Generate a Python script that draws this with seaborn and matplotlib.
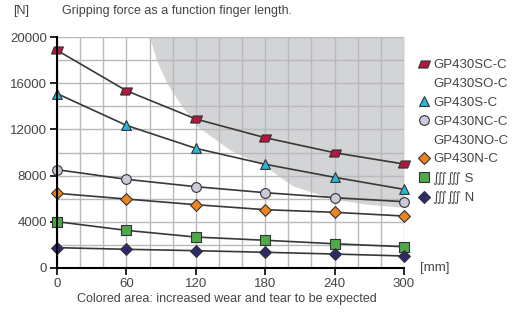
import numpy as np
import pandas as pd
import matplotlib
matplotlib.use("Agg")
import matplotlib.pyplot as plt
from matplotlib.lines import Line2D
import seaborn as sns

# ── Datos ───────────────────────────────────────────────────────────────────
finger_mm = [0, 60, 120, 180, 240, 300]
force_sc = [18850, 15350, 12900, 11280, 9980, 9000]
force_s = [15100, 12350, 10360, 8980, 7850, 6810]
force_nc = [8510, 7680, 7040, 6520, 6090, 5740]
force_n = [6470, 5970, 5480, 5050, 4820, 4500]
force_spring_s = [4010, 3260, 2680, 2400, 2100, 1840]
force_spring_n = [1760, 1620, 1500, 1360, 1210, 1040]

# zona de desgaste (borde inferior del área gris)
wear_x = [80, 86, 95, 108, 122, 150, 180, 204, 240, 270, 300]
wear_y = [20000, 18000, 16000, 14000, 12200, 10200, 8800, 7100, 5950, 5500, 5250]

series_names = ["GP430SC-C", "GP430S-C", "GP430NC-C", "GP430N-C", "S", "N"]
series_vals = [force_sc, force_s, force_nc, force_n, force_spring_s, force_spring_n]
spring = "\u222d\u222d"
legend_labels = ["GP430SC-C", "GP430SO-C", "GP430S-C", "GP430NC-C",
                 "GP430NO-C", "GP430N-C", spring + " S", spring + " N"]

# ── Estilo ──────────────────────────────────────────────────────────────────
sns.set_theme(style="white")
plt.rcParams["font.family"] = ["Liberation Sans", "DejaVu Sans"]
txt = "#444444"
parallelogram = [(-1, -0.6), (0.55, -0.6), (1, 0.6), (-0.55, 0.6), (-1, -0.6)]
markers = {"GP430SC-C": parallelogram, "GP430S-C": "^", "GP430NC-C": "o",
           "GP430N-C": "D", "S": "s", "N": "D"}
palette = {"GP430SC-C": "#b3173f", "GP430S-C": "#2bb5d8", "GP430NC-C": "#c9cbdb",
           "GP430N-C": "#ee8420", "S": "#4fa84a", "N": "#2d2a6b"}
sizes = {"GP430SC-C": 8.5, "GP430S-C": 7, "GP430NC-C": 7,
         "GP430N-C": 6, "S": 7, "N": 6}

df = pd.DataFrame([
    {"serie": n, "mm": x, "N": v}
    for n, vals in zip(series_names, series_vals)
    for x, v in zip(finger_mm, vals)
])

fig = plt.figure(figsize=(5.12, 3.13), dpi=100)
ax = fig.add_axes([57 / 512, 1 - 268 / 313, 347 / 512, 231 / 313])

ax.fill_between(wear_x, wear_y, 20000, color="#d3d4d6", lw=0, zorder=0)

ax.set_xticks(np.arange(0, 301, 20), minor=True)
ax.set_yticks(np.arange(0, 20001, 2000), minor=True)
ax.grid(which="both", color="#b9b9bb", lw=1.0, zorder=1)
ax.set_axisbelow(True)

sns.lineplot(data=df, x="mm", y="N", units="serie", estimator=None,
             color="#383838", lw=1.2, ax=ax, zorder=3)

for name in series_names:
    sub = df[df["serie"] == name]
    sns.scatterplot(data=sub, x="mm", y="N", marker=markers[name],
                    color=palette[name], s=sizes[name] ** 2,
                    edgecolor="#333333", linewidth=0.8, ax=ax,
                    zorder=4, clip_on=False, legend=False)

ax.set_xlim(0, 300)
ax.set_ylim(0, 20000)
ax.set_xticks(finger_mm)
ax.set_yticks(np.arange(0, 20001, 4000))
ax.set_xlabel("")
ax.set_ylabel("")
for side in ["top", "right"]:
    ax.spines[side].set_visible(False)
for side in ["left", "bottom"]:
    ax.spines[side].set_color("black")
    ax.spines[side].set_linewidth(1.5)
    ax.spines[side].set_zorder(5)
ax.tick_params(which="major", direction="out", length=5, width=1.2,
               color="black", labelsize=9.5, labelcolor=txt, pad=2, left=True, bottom=True)
ax.tick_params(which="minor", length=0)

# ── Textos ─────────────────────────────────────────────────────────────────
fig.text(13 / 512, 1 - 11 / 313, "[N]", fontsize=9, color=txt, va="center")
fig.text(62 / 512, 1 - 11 / 313, "Gripping force as a function finger length.",
         fontsize=9, color=txt, va="center")
fig.text(420 / 512, 1 - 268 / 313, "[mm]", fontsize=9.5, color=txt, va="center")
fig.text(227 / 512, 1 - 299 / 313, "Colored area: increased wear and tear to be expected",
         fontsize=9, color=txt, va="center", ha="center")

# ── Leyenda ────────────────────────────────────────────────────────────────
legend_keys = ["GP430SC-C", None, "GP430S-C", "GP430NC-C", None, "GP430N-C", "S", "N"]
handles = []
for key in legend_keys:
    if key is None:
        handles.append(Line2D([], [], ls="none", marker=None))
    else:
        handles.append(Line2D([], [], ls="none", marker=markers[key],
                              markerfacecolor=palette[key], markeredgecolor="#333333",
                              markeredgewidth=0.8, markersize=sizes[key]))
leg = fig.legend(handles, legend_labels, loc="upper left",
                 bbox_to_anchor=(418 / 512, 1 - 59 / 313), frameon=False,
                 fontsize=9.5, handlelength=0.9, handletextpad=0.25,
                 labelspacing=0.5, borderpad=0, borderaxespad=0)
for t in leg.get_texts():
    t.set_color(txt)

fig.savefig("out.png", dpi=100)
